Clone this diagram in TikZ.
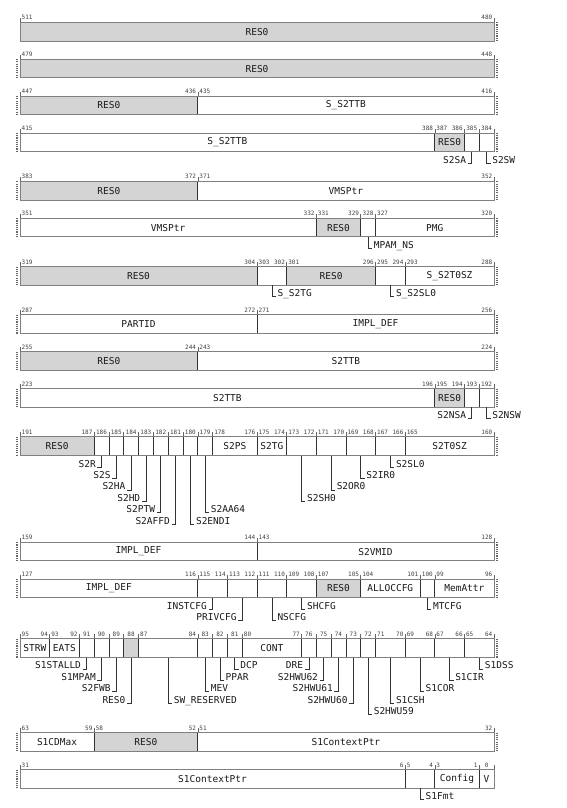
\documentclass[tikz,border=0pt]{standalone}
\usepackage{fontspec}
\setmonofont{DejaVu Sans Mono}
\begin{document}
\begin{tikzpicture}[x=1pt, y=1pt,
  fldtxt/.style={font=\ttfamily\fontsize{9.5}{11}\selectfont, text=black!90, inner sep=0pt},
  bitnum/.style={font=\ttfamily\fontsize{6}{6}\selectfont, text=black!75, inner sep=0pt},
  lbl/.style={font=\ttfamily\fontsize{9.5}{11}\selectfont, text=black!90, inner xsep=1.5pt, inner ysep=0pt},
  lead/.style={draw=black!80, line width=0.6pt},
  sep/.style={draw=black!80, line width=0.7pt},
  frame/.style={draw=black!50, line width=0.9pt},
  tick/.style={draw=black!60, line width=0.5pt},
  cont/.style={draw=black!60, line width=1.3pt, dash pattern=on 1.1pt off 1.1pt}]
% Register layout exported row by row (32 bits per row)
\def\bitw{14.8125}
\def\boxh{18.7}
\def\lvl{11.4}
\providecommand{\regResColor}{black!17}
% field: [fill]{msb}{lsb}{text}
\newcommand\regfld[4][white]{%
  \pgfmathsetmacro\xa{(\rowmsb-#2)*\bitw}%
  \pgfmathsetmacro\xb{(\rowmsb-#3+1)*\bitw}%
  \pgfmathsetmacro\xc{(\xa+\xb)/2}%
  \fill[#1] (\xa,0) rectangle (\xb,-\boxh);
  \draw[sep] (\xa,0) -- (\xa,-\boxh) (\xb,0) -- (\xb,-\boxh);
  \draw[tick] (\xa,0) -- (\xa,4.5) (\xb,0) -- (\xb,4.5);
  \node[fldtxt] (t#3) at (\xc,-\boxh/2) {#4};
  \coordinate (f#3) at (\xc,-\boxh);
  \ifnum#2=#3\relax
    \node[bitnum, anchor=base] (m#2) at (\xc,2.5) {#2};
  \else
    \node[bitnum, anchor=base west] (m#2) at (\xa+1.5,2.5) {#2};
    \node[bitnum, anchor=base east] (s#3) at (\xb-1.5,2.5) {#3};
  \fi
}
% leader labels: {lsb}{level}{text}
\newcommand\lblL[3]{%
  \pgfmathsetmacro\ly{-#2*\lvl}%
  \node[lbl, anchor=base east] (l#1) at ([xshift=-4pt,yshift=\ly pt]f#1) {#3};
  \draw[lead] (f#1) |- (l#1.base east);
}
\newcommand\lblR[3]{%
  \pgfmathsetmacro\ly{-#2*\lvl}%
  \node[lbl, anchor=base west] (l#1) at ([xshift=4pt,yshift=\ly pt]f#1) {#3};
  \draw[lead] (f#1) |- (l#1.base west);
}
\newcommand\regframe{\draw[frame] (0,0) rectangle (32*\bitw,-\boxh);}
\newcommand\dotsL{\draw[cont] (-3,0) -- (-3,-\boxh);}
\newcommand\dotsR{\draw[cont] (32*\bitw+3,0) -- (32*\bitw+3,-\boxh);}
\useasboundingbox (0,0) rectangle (567,-808);
% Bits 511-480
\begin{scope}[shift={(20,-22.3)}]
  \def\rowmsb{511}
  \regfld[\regResColor]{511}{480}{RES0}
  \regframe \dotsR
\end{scope}
% Bits 479-448
\begin{scope}[shift={(20,-59.2)}]
  \def\rowmsb{479}
  \regfld[\regResColor]{479}{448}{RES0}
  \regframe \dotsL \dotsR
\end{scope}
% Bits 447-416
\begin{scope}[shift={(20,-96.1)}]
  \def\rowmsb{447}
  \regfld[\regResColor]{447}{436}{RES0}
  \regfld{435}{416}{S\_S2TTB}
  \regframe \dotsL \dotsR
\end{scope}
% Bits 415-384
\begin{scope}[shift={(20,-133.0)}]
  \def\rowmsb{415}
  \regfld{415}{388}{S\_S2TTB}
  \regfld[\regResColor]{387}{386}{RES0}
  \regfld{385}{385}{}
  \regfld{384}{384}{}
  \regframe \dotsL \dotsR
  \lblL{385}{1}{S2SA}
  \lblR{384}{1}{S2SW}
\end{scope}
% Bits 383-352
\begin{scope}[shift={(20,-181.3)}]
  \def\rowmsb{383}
  \regfld[\regResColor]{383}{372}{RES0}
  \regfld{371}{352}{VMSPtr}
  \regframe \dotsL \dotsR
\end{scope}
% Bits 351-320
\begin{scope}[shift={(20,-218.2)}]
  \def\rowmsb{351}
  \regfld{351}{332}{VMSPtr}
  \regfld[\regResColor]{331}{329}{RES0}
  \regfld{328}{328}{}
  \regfld{327}{320}{PMG}
  \regframe \dotsL \dotsR
  \lblR{328}{1}{MPAM\_NS}
\end{scope}
% Bits 319-288
\begin{scope}[shift={(20,-266.5)}]
  \def\rowmsb{319}
  \regfld[\regResColor]{319}{304}{RES0}
  \regfld{303}{302}{}
  \regfld[\regResColor]{301}{296}{RES0}
  \regfld{295}{294}{}
  \regfld{293}{288}{S\_S2T0SZ}
  \regframe \dotsL \dotsR
  \lblR{302}{1}{S\_S2TG}
  \lblR{294}{1}{S\_S2SL0}
\end{scope}
% Bits 287-256
\begin{scope}[shift={(20,-314.8)}]
  \def\rowmsb{287}
  \regfld{287}{272}{PARTID}
  \regfld{271}{256}{IMPL\_DEF}
  \regframe \dotsL \dotsR
\end{scope}
% Bits 255-224
\begin{scope}[shift={(20,-351.7)}]
  \def\rowmsb{255}
  \regfld[\regResColor]{255}{244}{RES0}
  \regfld{243}{224}{S2TTB}
  \regframe \dotsL \dotsR
\end{scope}
% Bits 223-192
\begin{scope}[shift={(20,-388.6)}]
  \def\rowmsb{223}
  \regfld{223}{196}{S2TTB}
  \regfld[\regResColor]{195}{194}{RES0}
  \regfld{193}{193}{}
  \regfld{192}{192}{}
  \regframe \dotsL \dotsR
  \lblL{193}{1}{S2NSA}
  \lblR{192}{1}{S2NSW}
\end{scope}
% Bits 191-160
\begin{scope}[shift={(20,-436.9)}]
  \def\rowmsb{191}
  \regfld[\regResColor]{191}{187}{RES0}
  \foreach \b in {186,...,179} {\regfld{\b}{\b}{}}
  \regfld{178}{176}{S2PS}
  \regfld{175}{174}{S2TG}
  \regfld{173}{172}{}
  \regfld{171}{170}{}
  \regfld{169}{168}{}
  \regfld{167}{166}{}
  \regfld{165}{160}{S2T0SZ}
  \regframe \dotsL \dotsR
  \lblL{186}{1}{S2R}
  \lblL{185}{2}{S2S}
  \lblL{184}{3}{S2HA}
  \lblL{183}{4}{S2HD}
  \lblL{182}{5}{S2PTW}
  \lblL{181}{6}{S2AFFD}
  \lblR{180}{6}{S2ENDI}
  \lblR{179}{5}{S2AA64}
  \lblR{172}{4}{S2SH0}
  \lblR{170}{3}{S2OR0}
  \lblR{168}{2}{S2IR0}
  \lblR{166}{1}{S2SL0}
\end{scope}
% Bits 159-128
\begin{scope}[shift={(20,-542.2)}]
  \def\rowmsb{159}
  \regfld{159}{144}{IMPL\_DEF}
  \regfld{143}{128}{S2VMID}
  \regframe \dotsL \dotsR
\end{scope}
% Bits 127-96
\begin{scope}[shift={(20,-579.1)}]
  \def\rowmsb{127}
  \regfld{127}{116}{IMPL\_DEF}
  \regfld{115}{114}{}
  \regfld{113}{112}{}
  \regfld{111}{110}{}
  \regfld{109}{108}{}
  \regfld[\regResColor]{107}{105}{RES0}
  \regfld{104}{101}{ALLOCCFG}
  \regfld{100}{100}{}
  \regfld{99}{96}{MemAttr}
  \regframe \dotsL \dotsR
  \lblL{114}{1}{INSTCFG}
  \lblL{112}{2}{PRIVCFG}
  \lblR{110}{2}{NSCFG}
  \lblR{108}{1}{SHCFG}
  \lblR{100}{1}{MTCFG}
\end{scope}
% Bits 95-64
\begin{scope}[shift={(20,-638.8)}]
  \def\rowmsb{95}
  \regfld{95}{94}{STRW}
  \regfld{93}{92}{EATS}
  \regfld{91}{91}{}
  \regfld{90}{90}{}
  \regfld{89}{89}{}
  \regfld[\regResColor]{88}{88}{}
  \regfld{87}{84}{}
  \regfld{83}{83}{}
  \regfld{82}{82}{}
  \regfld{81}{81}{}
  \regfld{80}{77}{CONT}
  \foreach \b in {76,...,72} {\regfld{\b}{\b}{}}
  \regfld{71}{70}{}
  \regfld{69}{68}{}
  \regfld{67}{66}{}
  \regfld{65}{64}{}
  \regframe \dotsL \dotsR
  \lblL{91}{1}{S1STALLD}
  \lblL{90}{2}{S1MPAM}
  \lblL{89}{3}{S2FWB}
  \lblL{88}{4}{RES0}
  \lblR{84}{4}{SW\_RESERVED}
  \lblR{83}{3}{MEV}
  \lblR{82}{2}{PPAR}
  \lblR{81}{1}{DCP}
  \lblL{76}{1}{DRE}
  \lblL{75}{2}{S2HWU62}
  \lblL{74}{3}{S2HWU61}
  \lblL{73}{4}{S2HWU60}
  \lblR{72}{5}{S2HWU59}
  \lblR{70}{4}{S1CSH}
  \lblR{68}{3}{S1COR}
  \lblR{66}{2}{S1CIR}
  \lblR{64}{1}{S1DSS}
\end{scope}
% Bits 63-32
\begin{scope}[shift={(20,-732.7)}]
  \def\rowmsb{63}
  \regfld{63}{59}{S1CDMax}
  \regfld[\regResColor]{58}{52}{RES0}
  \regfld{51}{32}{S1ContextPtr}
  \regframe \dotsL \dotsR
\end{scope}
% Bits 31-0
\begin{scope}[shift={(20,-769.6)}]
  \def\rowmsb{31}
  \regfld{31}{6}{S1ContextPtr}
  \regfld{5}{4}{}
  \regfld{3}{1}{Config}
  \regfld{0}{0}{V}
  \regframe \dotsL
  \lblR{4}{1}{S1Fmt}
\end{scope}
\end{tikzpicture}
\end{document}
